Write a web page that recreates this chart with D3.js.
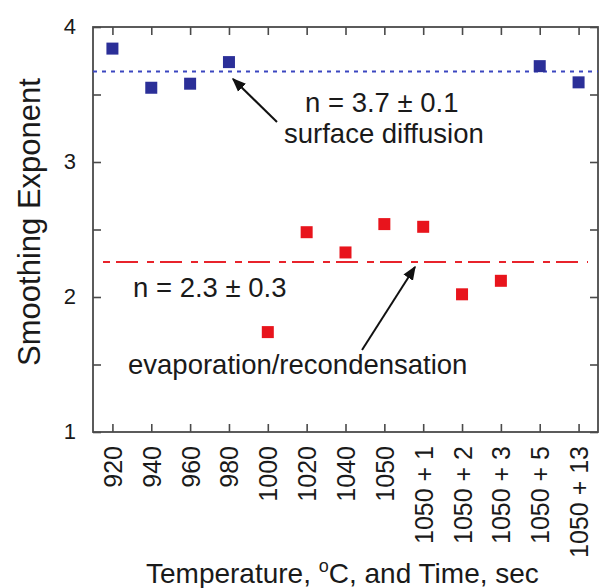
<!DOCTYPE html>
<html>
<head>
<meta charset="utf-8">
<script src="https://cdn.jsdelivr.net/npm/d3@7/dist/d3.min.js"></script>
<style>
  body { margin: 0; background: #fff; }
  svg { display: block; font-family: "Liberation Sans", Arial, Helvetica, sans-serif; }
</style>
</head>
<body>
<svg id="chart" width="600" height="588"></svg>
<script>
// Categories along the x axis: anneal temperature (°C) and extra time (s)
const categories = ["920", "940", "960", "980", "1000", "1020", "1040", "1050",
  "1050 + 1", "1050 + 2", "1050 + 3", "1050 + 5", "1050 + 13"];

// Surface-diffusion regime (blue squares)
const diffusionCats = ["920", "940", "960", "980", "1050 + 5", "1050 + 13"];
const diffusionVals = [3.84, 3.55, 3.58, 3.74, 3.71, 3.59];

// Evaporation/recondensation regime (red squares)
const evapCats = ["1000", "1020", "1040", "1050", "1050 + 1", "1050 + 2", "1050 + 3"];
const evapVals = [1.74, 2.48, 2.33, 2.54, 2.52, 2.02, 2.12];

// Mean exponents for each regime
const diffusionMean = 3.67;
const evapMean = 2.26;

const yMajorTicks = [1, 2, 3, 4];
const yMinorTicks = [1.5, 2.5, 3.5];

const svg = d3.select("#chart");
const plotL = 93, plotR = 598, plotT = 27, plotB = 432;

const x = d3.scalePoint().domain(categories).range([plotL, plotR]).padding(0.5);
const y = d3.scaleLinear().domain([1, 4]).range([plotB, plotT]);

const frameColor = "#4a4a4a";
const textColor = "#1a1a1a";

// Left axis: inward ticks, labels on integers
const yAxisL = d3.axisLeft(y)
  .tickValues(yMajorTicks.concat(yMinorTicks))
  .tickSize(-8).tickPadding(17)
  .tickFormat(d => Number.isInteger(d) ? d : "");
const gL = svg.append("g").attr("transform", `translate(${plotL},0)`).call(yAxisL);
gL.selectAll("text").attr("font-size", 22).attr("fill", textColor).attr("dy", "0.3em");

// Right axis: inward ticks only
const yAxisR = d3.axisRight(y).tickValues(yMajorTicks.concat(yMinorTicks))
  .tickSize(-8).tickFormat("");
svg.append("g").attr("transform", `translate(${plotR},0)`).call(yAxisR);

// Bottom axis with vertical category labels
const xAxisB = d3.axisBottom(x).tickSize(-8);
const gB = svg.append("g").attr("transform", `translate(0,${plotB})`).call(xAxisB);
gB.selectAll("text")
  .attr("transform", "rotate(-90)")
  .attr("x", -14).attr("y", 0).attr("dy", "0.36em")
  .attr("text-anchor", "end")
  .attr("font-size", 25).attr("fill", textColor);

// Top axis: inward ticks only
const xAxisT = d3.axisTop(x).tickSize(-8).tickFormat("");
svg.append("g").attr("transform", `translate(0,${plotT})`).call(xAxisT);

svg.selectAll(".domain").remove();
svg.selectAll(".tick line").attr("stroke", frameColor).attr("stroke-width", 1.6);

// Plot frame
svg.append("rect")
  .attr("x", plotL).attr("y", plotT)
  .attr("width", plotR - plotL).attr("height", plotB - plotT)
  .attr("fill", "none").attr("stroke", frameColor).attr("stroke-width", 1.8);

// Mean lines
svg.append("line")
  .attr("x1", plotL).attr("x2", plotR)
  .attr("y1", y(diffusionMean)).attr("y2", y(diffusionMean))
  .attr("stroke", "#3b46c0").attr("stroke-width", 2)
  .attr("stroke-dasharray", "4,5");

svg.append("line")
  .attr("x1", 103).attr("x2", 588)
  .attr("y1", y(evapMean)).attr("y2", y(evapMean))
  .attr("stroke", "#e8232b").attr("stroke-width", 2)
  .attr("stroke-dasharray", "7,6,22,9");

// Data squares
const sq = 12;
svg.append("g").selectAll("rect")
  .data(diffusionCats.map((c, i) => ({ c, v: diffusionVals[i] })))
  .join("rect")
  .attr("x", d => x(d.c) - sq / 2).attr("y", d => y(d.v) - sq / 2)
  .attr("width", sq).attr("height", sq)
  .attr("fill", "#2b2f98");

svg.append("g").selectAll("rect")
  .data(evapCats.map((c, i) => ({ c, v: evapVals[i] })))
  .join("rect")
  .attr("x", d => x(d.c) - sq / 2).attr("y", d => y(d.v) - sq / 2)
  .attr("width", sq).attr("height", sq)
  .attr("fill", "#e8141c");

// Arrow marker
svg.append("defs").append("marker")
  .attr("id", "arrow").attr("viewBox", "0 0 10 10")
  .attr("refX", 9).attr("refY", 5)
  .attr("markerWidth", 14).attr("markerHeight", 14)
  .attr("markerUnits", "userSpaceOnUse")
  .attr("orient", "auto")
  .append("path").attr("d", "M0,1 L10,5 L0,9 Z").attr("fill", "#111");

svg.append("line")
  .attr("x1", 277).attr("y1", 122).attr("x2", 233).attr("y2", 79)
  .attr("stroke", "#111").attr("stroke-width", 2).attr("marker-end", "url(#arrow)");
svg.append("line")
  .attr("x1", 362).attr("y1", 350).attr("x2", 415).attr("y2", 267)
  .attr("stroke", "#111").attr("stroke-width", 2).attr("marker-end", "url(#arrow)");

// Annotations
const ann = svg.append("g").attr("font-size", 27.5).attr("fill", textColor);
ann.append("text").attr("x", 305).attr("y", 112).text("n = 3.7 ± 0.1");
ann.append("text").attr("x", 284).attr("y", 143).text("surface diffusion");
ann.append("text").attr("x", 133).attr("y", 297).text("n = 2.3 ± 0.3");
ann.append("text").attr("x", 128).attr("y", 374).text("evaporation/recondensation");

// Axis titles
svg.append("text")
  .attr("transform", "translate(40,222) rotate(-90)")
  .attr("text-anchor", "middle")
  .attr("font-size", 31).attr("fill", textColor)
  .text("Smoothing Exponent");

const xt = svg.append("text")
  .attr("x", 146).attr("y", 583)
  .attr("font-size", 28).attr("fill", textColor);
xt.append("tspan").text("Temperature, ");
xt.append("tspan").attr("font-size", 18).attr("dy", -11).text("o");
xt.append("tspan").attr("dy", 11).text("C, and Time, sec");
</script>
</body>
</html>
